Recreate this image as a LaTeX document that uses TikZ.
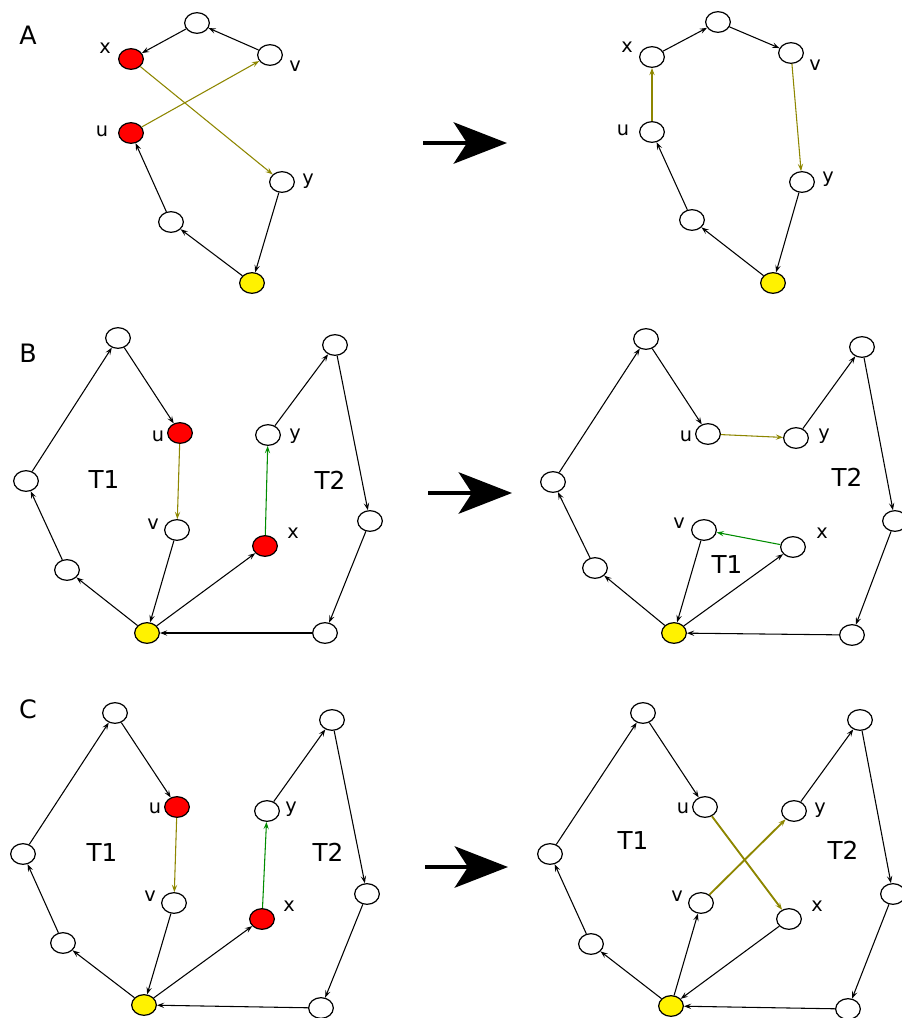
\documentclass[tikz,border=0pt]{standalone}
\usepackage{fontspec}
\setmainfont{DejaVu Sans}
\usetikzlibrary{shapes,arrows.meta}

\tikzset{
    vtx/.style={draw, ellipse, fill=white, line width=.9pt,
        minimum width=18.5pt, minimum height=15.5pt, inner sep=0pt},
    rv/.style={vtx, fill=red},
    yv/.style={vtx, fill=yellow},
    arr/.style={draw, line width=.8pt, -{Stealth[length=5.5pt,width=4pt,inset=2.2pt]}},
    swp/.style={arr, draw=olive},
    swpb/.style={arr, draw=olive, line width=1.4pt},
    grn/.style={arr, draw=green!55!black},
    lbl/.style={font=\fontsize{14.5}{14.5}\selectfont},
    tlbl/.style={font=\fontsize{18.5}{18.5}\selectfont},
    plbl/.style={font=\fontsize{19}{19}\selectfont},
    big/.style={line width=3pt, -{Stealth[length=40pt,width=31pt,inset=10pt]}}
}

\begin{document}
\begin{tikzpicture}[x=.75pt,y=-.75pt]
    \useasboundingbox (0,0) rectangle (902,1018);

    % A, before
    \node[plbl] (pA) at (28,35) {A};
    \node[vtx] (al-top) at (197,23) {};
    \node[rv]  (al-x) at (131,59) {};
    \node[vtx] (al-v) at (270,55) {};
    \node[rv]  (al-u) at (131,133) {};
    \node[vtx] (al-y) at (282,182) {};
    \node[vtx] (al-low) at (171,222) {};
    \node[yv]  (al-r) at (252,283) {};
    \node[lbl] (al-xl) at (105,48) {x};
    \node[lbl] (al-vl) at (295,66) {v};
    \node[lbl] (al-ul) at (102,131) {u};
    \node[lbl] (al-yl) at (308,181) {y};
    \draw[arr] (al-v) -- (al-top);
    \draw[arr] (al-top) -- (al-x);
    \draw[swp] (al-x) -- (al-y);
    \draw[swp] (al-u) -- (al-v);
    \draw[arr] (al-y) -- (al-r);
    \draw[arr] (al-r) -- (al-low);
    \draw[arr] (al-low) -- (al-u);

    % A, after
    \node[vtx] (ar-top) at (718,22) {};
    \node[vtx] (ar-x) at (652,57) {};
    \node[vtx] (ar-v) at (791,53) {};
    \node[vtx] (ar-u) at (652,132) {};
    \node[vtx] (ar-y) at (802,182) {};
    \node[vtx] (ar-low) at (692,220) {};
    \node[yv]  (ar-r) at (773,283) {};
    \node[lbl] (ar-xl) at (627,47) {x};
    \node[lbl] (ar-vl) at (815,65) {v};
    \node[lbl] (ar-ul) at (623,130) {u};
    \node[lbl] (ar-yl) at (828,179) {y};
    \draw[arr] (ar-x) -- (ar-top);
    \draw[arr] (ar-top) -- (ar-v);
    \draw[swp] (ar-v) -- (ar-y);
    \draw[swp] (ar-u) -- (ar-x);
    \draw[arr] (ar-y) -- (ar-r);
    \draw[arr] (ar-r) -- (ar-low);
    \draw[arr] (ar-low) -- (ar-u);

    % B, before
    \node[plbl] (pB) at (28,353) {B};
    \node[vtx] (bl-t1) at (118,338) {};
    \node[rv]  (bl-u) at (180,433) {};
    \node[vtx] (bl-v) at (177,530) {};
    \node[vtx] (bl-lft) at (26,481) {};
    \node[vtx] (bl-low) at (67,570) {};
    \node[yv]  (bl-r) at (147,633) {};
    \node[rv]  (bl-x) at (265,546) {};
    \node[vtx] (bl-y) at (268,435) {};
    \node[vtx] (bl-t2) at (335,345) {};
    \node[vtx] (bl-rgt) at (370,521) {};
    \node[vtx] (bl-bot) at (325,633) {};
    \node[lbl] (bl-ul) at (158,436) {u};
    \node[lbl] (bl-vl) at (153,524) {v};
    \node[lbl] (bl-xl) at (293,533) {x};
    \node[lbl] (bl-yl) at (295,436) {y};
    \node[tlbl] (bl-T1) at (104,480) {T1};
    \node[tlbl] (bl-T2) at (330,480) {T2};
    \draw[arr] (bl-lft) -- (bl-t1);
    \draw[arr] (bl-t1) -- (bl-u);
    \draw[swp] (bl-u) -- (bl-v);
    \draw[arr] (bl-v) -- (bl-r);
    \draw[arr] (bl-r) -- (bl-low);
    \draw[arr] (bl-low) -- (bl-lft);
    \draw[arr] (bl-r) -- (bl-x);
    \draw[grn] (bl-x) -- (bl-y);
    \draw[arr] (bl-y) -- (bl-t2);
    \draw[arr] (bl-t2) -- (bl-rgt);
    \draw[arr] (bl-rgt) -- (bl-bot);
    \draw[arr] (bl-bot) -- (bl-r);

    % B, after
    \node[vtx] (br-t1) at (646,339) {};
    \node[vtx] (br-u) at (708,434) {};
    \node[vtx] (br-y) at (796,438) {};
    \node[vtx] (br-t2) at (862,347) {};
    \node[vtx] (br-rgt) at (895,521) {};
    \node[vtx] (br-lft) at (553,482) {};
    \node[vtx] (br-low) at (595,568) {};
    \node[yv]  (br-r) at (674,633) {};
    \node[vtx] (br-v) at (704,530) {};
    \node[vtx] (br-x) at (793,547) {};
    \node[vtx] (br-bot) at (852,635) {};
    \node[lbl] (br-ul) at (686,436) {u};
    \node[lbl] (br-yl) at (824,436) {y};
    \node[lbl] (br-vl) at (679,523) {v};
    \node[lbl] (br-xl) at (822,533) {x};
    \node[tlbl] (br-T1) at (727,565) {T1};
    \node[tlbl] (br-T2) at (847,477) {T2};
    \draw[arr] (br-lft) -- (br-t1);
    \draw[arr] (br-t1) -- (br-u);
    \draw[swp] (br-u) -- (br-y);
    \draw[arr] (br-y) -- (br-t2);
    \draw[arr] (br-t2) -- (br-rgt);
    \draw[arr] (br-rgt) -- (br-bot);
    \draw[arr] (br-bot) -- (br-r);
    \draw[arr] (br-r) -- (br-low);
    \draw[arr] (br-low) -- (br-lft);
    \draw[arr] (br-v) -- (br-r);
    \draw[arr] (br-r) -- (br-x);
    \draw[grn] (br-x) -- (br-v);

    % C, before
    \node[plbl] (pC) at (28,709) {C};
    \node[vtx] (cl-t1) at (115,713) {};
    \node[rv]  (cl-u) at (177,807) {};
    \node[vtx] (cl-v) at (174,903) {};
    \node[vtx] (cl-lft) at (23,854) {};
    \node[vtx] (cl-low) at (63,943) {};
    \node[yv]  (cl-r) at (144,1005) {};
    \node[rv]  (cl-x) at (262,919) {};
    \node[vtx] (cl-y) at (267,811) {};
    \node[vtx] (cl-t2) at (332,720) {};
    \node[vtx] (cl-rgt) at (367,894) {};
    \node[vtx] (cl-bot) at (321,1008) {};
    \node[lbl] (cl-ul) at (155,808) {u};
    \node[lbl] (cl-vl) at (150,896) {v};
    \node[lbl] (cl-xl) at (289,906) {x};
    \node[lbl] (cl-yl) at (291,809) {y};
    \node[tlbl] (cl-T1) at (102,852) {T1};
    \node[tlbl] (cl-T2) at (328,852) {T2};
    \draw[arr] (cl-lft) -- (cl-t1);
    \draw[arr] (cl-t1) -- (cl-u);
    \draw[swp] (cl-u) -- (cl-v);
    \draw[arr] (cl-v) -- (cl-r);
    \draw[arr] (cl-r) -- (cl-low);
    \draw[arr] (cl-low) -- (cl-lft);
    \draw[arr] (cl-r) -- (cl-x);
    \draw[grn] (cl-x) -- (cl-y);
    \draw[arr] (cl-y) -- (cl-t2);
    \draw[arr] (cl-t2) -- (cl-rgt);
    \draw[arr] (cl-rgt) -- (cl-bot);
    \draw[arr] (cl-bot) -- (cl-r);

    % C, after
    \node[vtx] (cr-t1) at (643,713) {};
    \node[vtx] (cr-u) at (705,807) {};
    \node[vtx] (cr-y) at (794,811) {};
    \node[vtx] (cr-t2) at (860,720) {};
    \node[vtx] (cr-rgt) at (893,894) {};
    \node[vtx] (cr-lft) at (550,854) {};
    \node[vtx] (cr-low) at (591,944) {};
    \node[yv]  (cr-r) at (671,1006) {};
    \node[vtx] (cr-v) at (701,903) {};
    \node[vtx] (cr-x) at (789,919) {};
    \node[vtx] (cr-bot) at (848,1009) {};
    \node[lbl] (cr-ul) at (683,808) {u};
    \node[lbl] (cr-yl) at (820,810) {y};
    \node[lbl] (cr-vl) at (677,896) {v};
    \node[lbl] (cr-xl) at (817,906) {x};
    \node[tlbl] (cr-T1) at (633,840) {T1};
    \node[tlbl] (cr-T2) at (843,850) {T2};
    \draw[arr] (cr-lft) -- (cr-t1);
    \draw[arr] (cr-t1) -- (cr-u);
    \draw[swpb] (cr-u) -- (cr-x);
    \draw[swpb] (cr-v) -- (cr-y);
    \draw[arr] (cr-y) -- (cr-t2);
    \draw[arr] (cr-t2) -- (cr-rgt);
    \draw[arr] (cr-rgt) -- (cr-bot);
    \draw[arr] (cr-bot) -- (cr-r);
    \draw[arr] (cr-r) -- (cr-low);
    \draw[arr] (cr-low) -- (cr-lft);
    \draw[arr] (cr-r) -- (cr-v);
    \draw[arr] (cr-x) -- (cr-r);

    % big arrows
    \coordinate (ga0) at (423,143);
    \coordinate (ga1) at (507,143);
    \coordinate (gb0) at (428,493);
    \coordinate (gb1) at (512,493);
    \coordinate (gc0) at (425,867);
    \coordinate (gc1) at (508,867);
    \draw[big] (ga0) -- (ga1);
    \draw[big] (gb0) -- (gb1);
    \draw[big] (gc0) -- (gc1);
\end{tikzpicture}
\end{document}
